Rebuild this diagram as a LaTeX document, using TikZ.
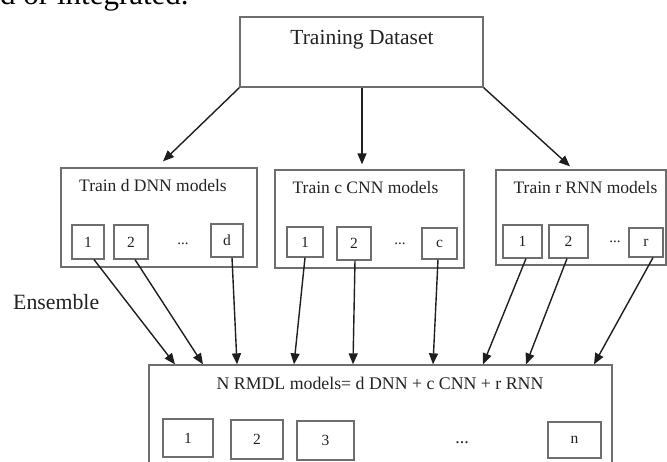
\documentclass[tikz,border=0pt]{standalone}
\usepackage{fontspec}
\setmainfont{Liberation Serif}
\usetikzlibrary{arrows.meta}
\definecolor{boxgray}{HTML}{6E6E6E}
\definecolor{linedark}{HTML}{1E1E1E}
\definecolor{inkgray}{HTML}{222222}
\begin{document}
\begin{tikzpicture}[x=1pt,y=-1pt,
  panel/.style={draw=boxgray,line width=1.3pt,inner sep=0pt},
  cell/.style={draw=boxgray,line width=1.2pt,inner sep=0pt,text=inkgray,font=\fontsize{15.5}{15.5}\selectfont},
  title/.style={anchor=base,inner sep=0pt,text=inkgray,font=\fontsize{17.5}{17.5}\selectfont},
  dotsym/.style={inner sep=0pt,text=inkgray,font=\fontsize{15}{15}\selectfont},
  arr/.style={draw=linedark,line width=1.4pt,-{Triangle[length=11pt,width=9pt]}}
]
\useasboundingbox (0,0) rectangle (667,462);

% clipped line of running text above the figure
\node[anchor=base west,inner sep=0pt,font=\fontsize{31}{31}\selectfont] (prose) at (0,5) {d or integrated.};

% source data
\node[panel,minimum width=243,minimum height=70] (train) at (361.5,52) {};
\node[anchor=base,inner sep=0pt,text=inkgray,font=\fontsize{21.5}{21.5}\selectfont] (traintxt) at (362,45) {Training Dataset};

% three families of base learners
\node[panel,minimum width=196,minimum height=99] (dnn) at (159,217.5) {};
\node[title] (dnntxt) at (153,192) {Train d DNN models};
\node[cell,minimum width=32,minimum height=34] (d1) at (88,242) {1};
\node[cell,minimum width=34,minimum height=34] (d2) at (131,242) {2};
\node[dotsym] (ddots) at (183,244) {...};
\node[cell,minimum width=32,minimum height=33] (dn) at (227,240.5) {d};

\node[panel,minimum width=189,minimum height=98] (cnn) at (369.5,219) {};
\node[title] (cnntxt) at (365.5,194) {Train c CNN models};
\node[cell,minimum width=36,minimum height=30] (c1) at (305,242) {1};
\node[cell,minimum width=34,minimum height=33] (c2) at (354,243.5) {2};
\node[dotsym] (cdots) at (400,244) {...};
\node[cell,minimum width=35,minimum height=31] (cn) at (439.5,243.5) {c};

\node[panel,minimum width=170,minimum height=95] (rnn) at (581,217.5) {};
\node[title] (rnntxt) at (585.5,194) {Train r RNN models};
\node[cell,minimum width=39,minimum height=33] (r1) at (522.5,241.5) {1};
\node[cell,minimum width=39,minimum height=33] (r2) at (568.5,241.5) {2};
\node[dotsym] (rdots) at (615,242) {...};
\node[cell,minimum width=34,minimum height=29] (rn) at (646,242.5) {r};

% ensemble of all models
\node[panel,minimum width=463,minimum height=110] (all) at (380.5,420) {};
\node[anchor=base,inner sep=0pt,text=inkgray,font=\fontsize{17.8}{17.8}\selectfont] (alltxt) at (380,390) {N RMDL models= d DNN + c CNN + r RNN};
\node[cell,minimum width=50,minimum height=38] (m1) at (188,438) {1};
\node[cell,minimum width=52,minimum height=39] (m2) at (257,439.5) {2};
\node[cell,minimum width=57,minimum height=39] (m3) at (325.5,440.5) {3};
\node[dotsym,font=\fontsize{18}{18}\selectfont] (mdots) at (462,443) {...};
\node[cell,minimum width=53,minimum height=36] (mn) at (574.5,440) {n};

\node[anchor=base west,inner sep=0pt,text=inkgray,font=\fontsize{21.8}{21.8}\selectfont] (ens) at (13,310) {Ensemble};

% training data feeds each family
\draw[arr] (train.south west) -- ([shift={(4,-6)}]dnn.north);
\draw[arr] ([shift={(0.5,0)}]train.south) -- ([shift={(-7.5,-5)}]cnn.north);
\draw[arr] (train.south east) -- ([shift={(-11,-3)}]rnn.north);

% every trained model joins the ensemble
\draw[arr] ([shift={(6,0)}]d1.south) -- ([shift={(-205.5,0)}]all.north);
\draw[arr] ([shift={(4,0)}]d2.south) -- ([shift={(-177.5,0)}]all.north);
\draw[arr] ([shift={(5,0)}]dn.south) -- ([shift={(-143.5,0)}]all.north);
\draw[arr] (c1.south) -- ([shift={(-86.5,0)}]all.north);
\draw[arr] ([shift={(1,0)}]c2.south) -- ([shift={(-27.5,0)}]all.north);
\draw[arr] ([shift={(-1.5,0)}]cn.south) -- ([shift={(52.5,0)}]all.north);
\draw[arr] ([shift={(3.5,0)}]r1.south) -- ([shift={(102.5,0)}]all.north);
\draw[arr] ([shift={(-1.5,0)}]r2.south) -- ([shift={(145.5,0)}]all.north);
\draw[arr] ([shift={(7,0)}]rn.south) -- ([shift={(213.5,0)}]all.north);
\end{tikzpicture}
\end{document}
